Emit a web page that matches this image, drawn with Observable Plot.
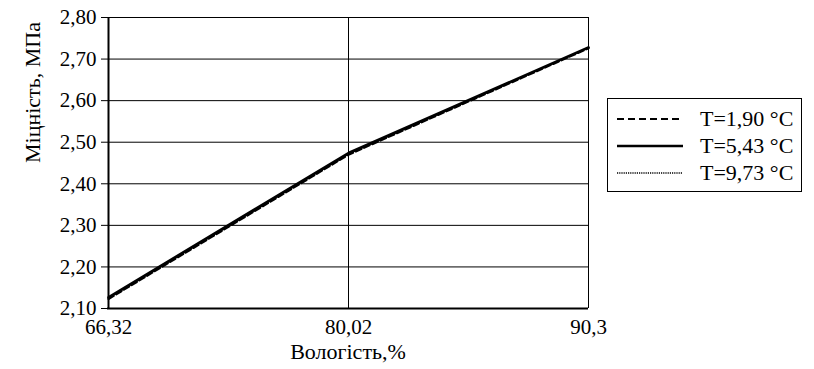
<!DOCTYPE html>
<html>
<head>
<meta charset="utf-8">
<script src="https://cdn.jsdelivr.net/npm/d3@7"></script>
<script src="https://cdn.jsdelivr.net/npm/@observablehq/plot@0.6"></script>
<style>
  html, body { margin: 0; padding: 0; background: #fff; }
  #wrap, #wrap * { font-family: "Liberation Serif", "Times New Roman", serif !important; }
  #wrap { position: relative; width: 814px; height: 369px; }
  #legend { position: absolute; left: 607px; top: 98px; width: 195px; height: 94px; border: 1px solid #000; box-sizing: border-box; background: #fff; }
  .row { position: absolute; left: 0; height: 24px; width: 194px; }
  .row svg { position: absolute; left: 9px; top: 0; }
  .row span { position: absolute; left: 92px; top: 0; line-height: 24px; font-size: 22px; color: #000; white-space: nowrap; }
</style>
</head>
<body>
<div id="wrap"></div>
<script>
// ---- data ----
const moisture = ["66,32", "80,02", "90,3"];
const seriesNames = ["T=1,90 °C", "T=5,43 °C", "T=9,73 °C"];
const t190 = [2.123, 2.470, 2.726];
const t543 = [2.127, 2.474, 2.728];
const t973 = [2.125, 2.472, 2.727];
const yTicks = [2.1, 2.2, 2.3, 2.4, 2.5, 2.6, 2.7, 2.8];
const xLabel = "Вологість,%";
const yLabel = "Міцність, МПа";

const seriesValues = [t190, t543, t973];
const dashes = ["6,3", null, "1,1"];
const widths = [2.2, 2.6, 1.4];
const rows = [];
seriesNames.forEach((s, i) => moisture.forEach((m, j) => rows.push({series: s, x: m, y: seriesValues[i][j]})));

const fmt = d => d.toFixed(2).replace(".", ",");
const font = "'Liberation Serif', 'Times New Roman', serif";

const lineMarks = [1, 0, 2].map(i =>
  Plot.line(rows.filter(r => r.series === seriesNames[i]), {
    x: "x", y: "y", stroke: "#000", strokeWidth: widths[i],
    strokeDasharray: dashes[i] || undefined
  })
);

const chart = Plot.plot({
  width: 814,
  height: 369,
  marginLeft: 107,
  marginRight: 226,
  marginTop: 17,
  marginBottom: 61,
  style: { fontFamily: font, fontSize: "21px", color: "#000", background: "#fff", overflow: "visible" },
  x: { type: "point", domain: moisture, padding: 0 },
  y: { domain: [2.1, 2.8] },
  marks: [
    Plot.ruleY(yTicks, { y: d => d, stroke: "#000", strokeWidth: 1 }),
    Plot.ruleX(["80,02"], { x: d => d, stroke: "#000", strokeWidth: 1 }),
    Plot.ruleX(["90,3"], { x: d => d, stroke: "#000", strokeWidth: 1 }),
    Plot.ruleX(["66,32"], { x: d => d, stroke: "#000", strokeWidth: 2 }),
    Plot.ruleY([2.1], { y: d => d, stroke: "#000", strokeWidth: 2 }),
    Plot.axisY({ ticks: yTicks, tickFormat: fmt, tickSize: 6, tickPadding: 5, stroke: "#000", fontSize: 21, label: null }),
    Plot.axisX({ tickSize: 0, tickPadding: 11, fontSize: 21, label: null }),
    Plot.text([xLabel], { frameAnchor: "bottom", dy: 50, text: d => d, fontSize: 22, fill: "#000" }),
    Plot.text([yLabel], { frameAnchor: "left", dx: -75, rotate: -90, text: d => d, fontSize: 22, fill: "#000" }),
    ...lineMarks
  ]
});
const wrap = document.getElementById("wrap");
wrap.appendChild(chart);

// legend
const legend = document.createElement("div");
legend.id = "legend";
const rowTops = [8, 35, 62];
seriesNames.forEach((s, i) => {
  const r = document.createElement("div");
  r.className = "row";
  r.style.top = rowTops[i] + "px";
  const w = i === 1 ? 2.6 : (i === 0 ? 2 : 1.4);
  r.innerHTML = `<svg width="67" height="24"><line x1="0" x2="66" y1="12" y2="12" stroke="#000" stroke-width="${w}" ${dashes[i] ? `stroke-dasharray="${i === 0 ? "7,4" : "1.2,1"}"` : ""}/></svg><span>${s}</span>`;
  legend.appendChild(r);
});
wrap.appendChild(legend);
</script>
</body>
</html>
